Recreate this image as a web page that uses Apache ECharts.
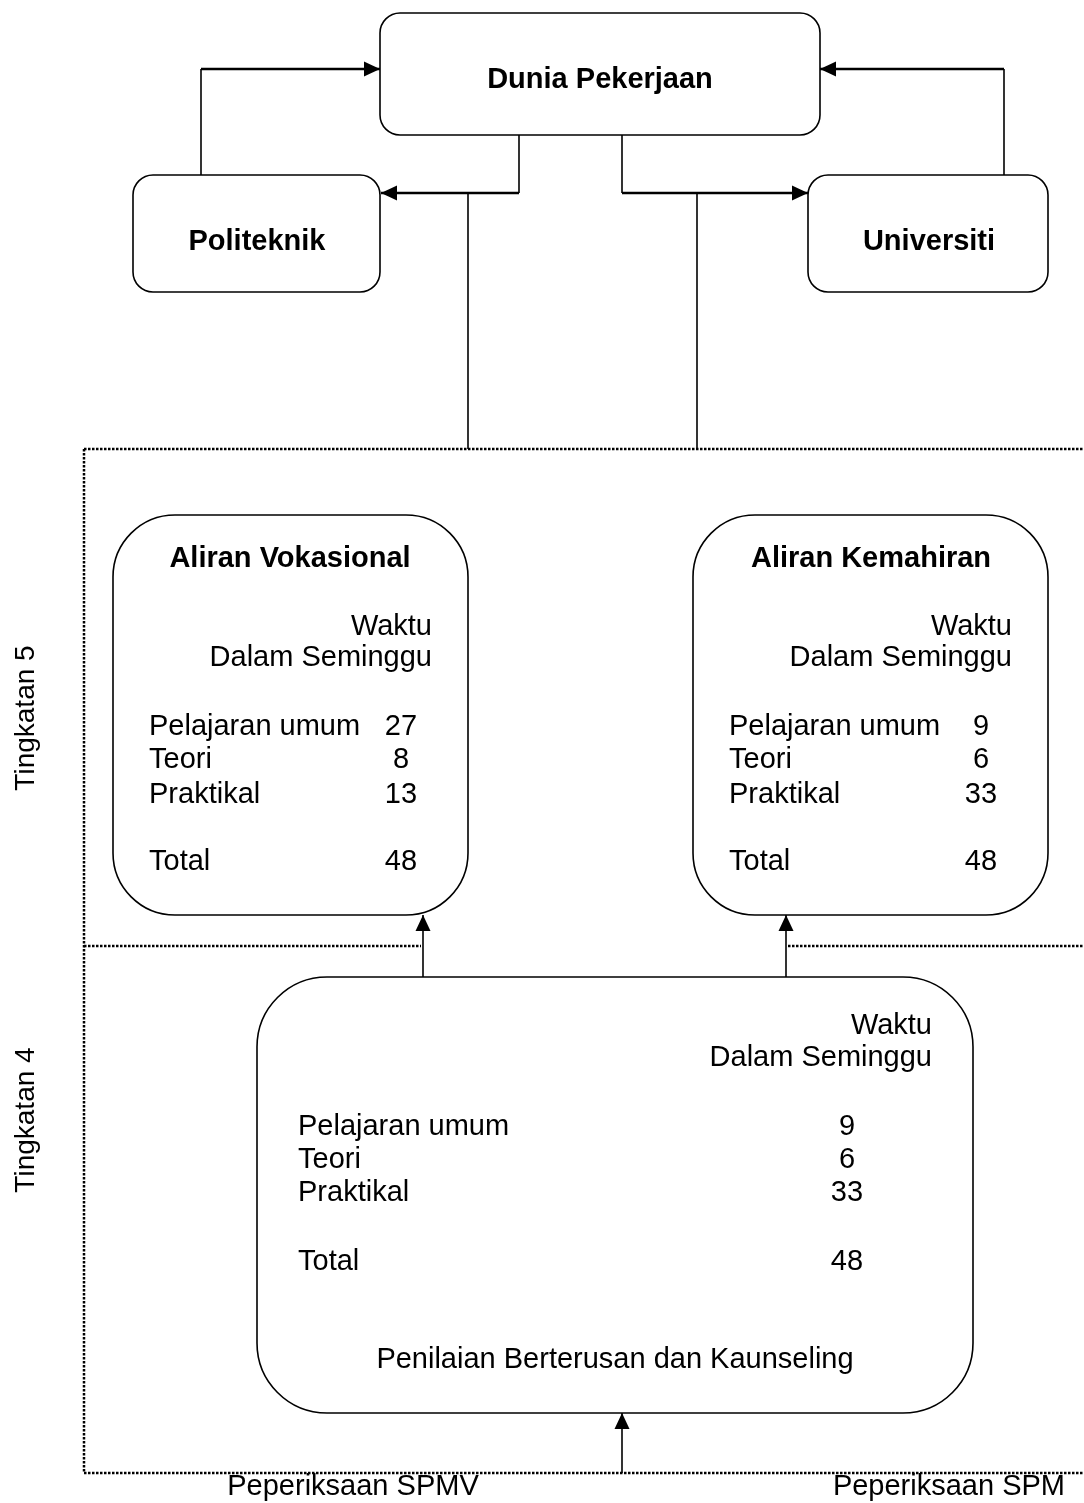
<!DOCTYPE html>
<html>
<head>
<meta charset="utf-8">
<title>Aliran Vokasional dan Kemahiran</title>
<script src="https://cdn.jsdelivr.net/npm/echarts@6/dist/echarts.min.js"></script>
<style>
  html, body { margin: 0; padding: 0; background: #fff; }
  #chart { width: 1084px; height: 1503px; }
</style>
</head>
<body>
<div id="chart"></div>
<script>
// --- data ---
const subjects = ['Pelajaran umum', 'Teori', 'Praktikal'];
const totalLabel = 'Total';
const vokasionalHours = [27, 8, 13];
const kemahiranHours = [9, 6, 33];
const tingkatan4Hours = [9, 6, 33];
const totalHours = [48, 48, 48]; // vokasional, kemahiran, tingkatan 4
const destinations = ['Dunia Pekerjaan', 'Politeknik', 'Universiti'];
const streams = ['Aliran Vokasional', 'Aliran Kemahiran'];
const levels = ['Tingkatan 5', 'Tingkatan 4'];
const exams = ['Peperiksaan SPMV', 'Peperiksaan SPM'];
const hoursHeader = ['Waktu', 'Dalam Seminggu'];
const footerNote = 'Penilaian Berterusan dan Kaunseling';

// --- layout (diagram units = page pixels through hidden axes) ---
const W = 1084, H = 1503;
const FONT = "'Liberation Sans', Arial, sans-serif";

const boxes = [
    { x0: 380, y0: 13, x1: 820, y1: 135, r: 20 },    // Dunia Pekerjaan
    { x0: 133, y0: 175, x1: 380, y1: 292, r: 20 },   // Politeknik
    { x0: 808, y0: 175, x1: 1048, y1: 292, r: 20 },  // Universiti
    { x0: 113, y0: 515, x1: 468, y1: 915, r: 62 },   // Vokasional
    { x0: 693, y0: 515, x1: 1048, y1: 915, r: 62 },  // Kemahiran
    { x0: 257, y0: 977, x1: 973, y1: 1413, r: 70 }   // Tingkatan 4
];

const connectors = [
    { pts: [[201, 175], [201, 69], [380, 69]], arrow: true, lastW: 2.5 },
    { pts: [[1004, 175], [1004, 69], [820, 69]], arrow: true, lastW: 2.5 },
    { pts: [[519, 135], [519, 193], [381, 193]], arrow: true, lastW: 2.5 },
    { pts: [[622, 135], [622, 193], [808, 193]], arrow: true, lastW: 2.5 },
    { pts: [[468, 193], [468, 449]] },
    { pts: [[697, 193], [697, 449]] },
    { pts: [[423, 977], [423, 915]], arrow: true },
    { pts: [[786, 977], [786, 915]], arrow: true },
    { pts: [[622, 1473], [622, 1413]], arrow: true }
];

const frame = [
    [[84, 449], [1084, 449]],
    [[84, 449], [84, 1473]],
    [[84, 1473], [1084, 1473]],
    [[84, 946], [421, 946]],
    [[788, 946], [1084, 946]]
];

const tables = [
    { hours: vokasionalHours, total: totalHours[0], headRight: 432, headY: [627, 658], labelX: 149, numX: 401, rowY: [727, 760, 795, 862] },
    { hours: kemahiranHours, total: totalHours[1], headRight: 1012, headY: [627, 658], labelX: 729, numX: 981, rowY: [727, 760, 795, 862] },
    { hours: tingkatan4Hours, total: totalHours[2], headRight: 932, headY: [1026, 1058], labelX: 298, numX: 847, rowY: [1127, 1160, 1193, 1262] }
];

// --- build texts ---
const texts = [];
function addText(text, x, y, opt) {
    texts.push(Object.assign({ text: String(text), x, y, align: 'center', bold: false, rotate: 0, size: 29 }, opt || {}));
}

[[600, 80], [257, 242], [929, 242]].forEach((p, i) => addText(destinations[i], p[0], p[1], { bold: true }));
[[290, 559], [871, 559]].forEach((p, i) => addText(streams[i], p[0], p[1], { bold: true }));

tables.forEach(t => {
    hoursHeader.forEach((h, i) => addText(h, t.headRight, t.headY[i], { align: 'right' }));
    subjects.forEach((s, i) => {
        addText(s, t.labelX, t.rowY[i], { align: 'left' });
        addText(t.hours[i], t.numX, t.rowY[i]);
    });
    addText(totalLabel, t.labelX, t.rowY[3], { align: 'left' });
    addText(t.total, t.numX, t.rowY[3]);
});

addText(footerNote, 615, 1360);
addText(exams[0], 353, 1487);
addText(exams[1], 1065, 1487, { align: 'right' });
addText(levels[0], 26, 718, { rotate: Math.PI / 2, size: 28 });
addText(levels[1], 26, 1120, { rotate: Math.PI / 2, size: 28 });

// --- render ---
const chart = echarts.init(document.getElementById('chart'));

function arrowHead(api, tip, prev) {
    const a = api.coord(tip), b = api.coord(prev);
    const dx = a[0] - b[0], dy = a[1] - b[1];
    const len = Math.sqrt(dx * dx + dy * dy) || 1;
    const ux = dx / len, uy = dy / len;
    const L = 16, HW = 7.5;
    const bx = a[0] - ux * L, by = a[1] - uy * L;
    return {
        type: 'polygon',
        shape: { points: [a, [bx - uy * HW, by + ux * HW], [bx + uy * HW, by - ux * HW]] },
        style: { fill: '#000' }
    };
}

const option = {
    animation: false,
    backgroundColor: '#fff',
    grid: { left: 0, right: 0, top: 0, bottom: 0 },
    xAxis: { type: 'value', min: 0, max: W, show: false },
    yAxis: { type: 'value', min: 0, max: H, inverse: true, show: false },
    series: [
        {
            // dotted frame for Tingkatan 4 / 5
            type: 'custom',
            clip: false,
            silent: true,
            data: frame.map(f => f[0]),
            renderItem: (params, api) => {
                const f = frame[params.dataIndex];
                return {
                    type: 'polyline',
                    shape: { points: f.map(p => api.coord(p)) },
                    style: { stroke: '#000', lineWidth: 2.5, lineDash: [2.5, 1.5], fill: null }
                };
            }
        },
        {
            type: 'custom',
            clip: false,
            silent: true,
            data: connectors.map(c => c.pts[0]),
            renderItem: (params, api) => {
                const c = connectors[params.dataIndex];
                const pts = c.pts;
                const children = [];
                const n = pts.length;
                if (n > 2) {
                    children.push({
                        type: 'polyline',
                        shape: { points: pts.slice(0, n - 1).map(p => api.coord(p)) },
                        style: { stroke: '#000', lineWidth: 1.6, fill: null }
                    });
                }
                const a = api.coord(pts[n - 2]), b = api.coord(pts[n - 1]);
                children.push({
                    type: 'line',
                    shape: { x1: a[0], y1: a[1], x2: b[0], y2: b[1] },
                    style: { stroke: '#000', lineWidth: c.lastW || 1.6 }
                });
                if (c.arrow) children.push(arrowHead(api, pts[n - 1], pts[n - 2]));
                return { type: 'group', children };
            }
        },
        {
            type: 'custom',
            clip: false,
            silent: true,
            data: boxes.map(b => [b.x0, b.y0]),
            renderItem: (params, api) => {
                const b = boxes[params.dataIndex];
                const p0 = api.coord([b.x0, b.y0]);
                const p1 = api.coord([b.x1, b.y1]);
                return {
                    type: 'rect',
                    shape: { x: p0[0], y: p0[1], width: p1[0] - p0[0], height: p1[1] - p0[1], r: b.r },
                    style: { fill: '#fff', stroke: '#000', lineWidth: 1.6 }
                };
            }
        },
        {
            type: 'custom',
            clip: false,
            silent: true,
            data: texts.map(t => [t.x, t.y]),
            renderItem: (params, api) => {
                const t = texts[params.dataIndex];
                const p = api.coord([api.value(0), api.value(1)]);
                return {
                    type: 'text',
                    x: p[0],
                    y: p[1],
                    rotation: t.rotate,
                    style: {
                        text: t.text,
                        x: 0,
                        y: 0,
                        fill: '#000',
                        fontFamily: FONT,
                        fontSize: t.size,
                        fontWeight: t.bold ? 'bold' : 'normal',
                        align: t.align,
                        verticalAlign: 'middle'
                    }
                };
            }
        }
    ]
};

chart.setOption(option);
</script>
</body>
</html>
